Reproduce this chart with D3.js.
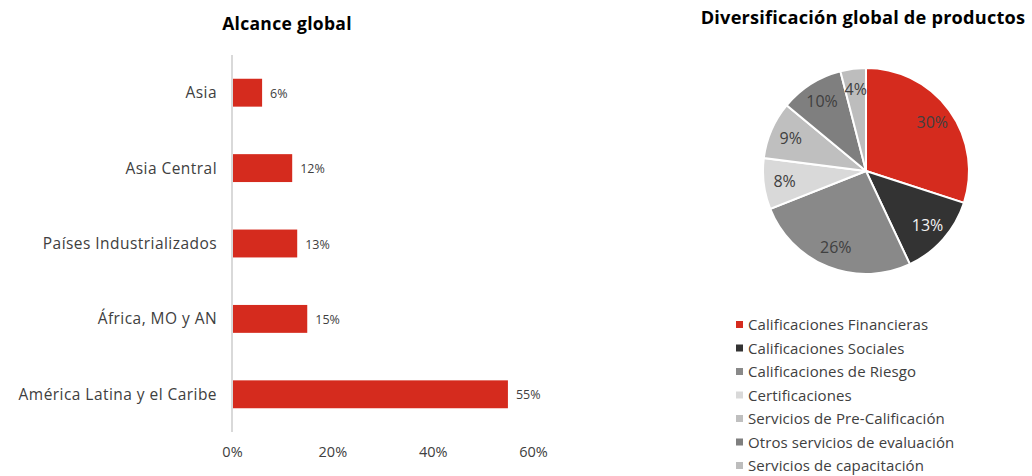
<!DOCTYPE html>
<html>
<head>
<meta charset="utf-8">
<script src="https://cdn.jsdelivr.net/npm/d3@7"></script>
<style>
  body { margin: 0; background: #fff; font-family: "Open Sans", sans-serif; }
  svg text { fill: #404040; }
</style>
</head>
<body>
<div id="chart"></div>
<script>
// bar chart data
const regions = ["Asia", "Asia Central", "Países Industrializados", "África, MO y AN", "América Latina y el Caribe"];
const regionShare = [6, 12, 13, 15, 55];
const xTicks = [0, 20, 40, 60];

// pie data
const products = ["Calificaciones Financieras", "Calificaciones Sociales", "Calificaciones de Riesgo",
  "Certificaciones", "Servicios de Pre-Calificación", "Otros servicios de evaluación", "Servicios de capacitación"];
const productShare = [30, 13, 26, 8, 9, 10, 4];
const productColors = ["#d52b1e", "#333333", "#898989", "#d9d9d9", "#bfbfbf", "#7f7f7f", "#bdbdbd"];

const svg = d3.select("#chart").append("svg")
    .attr("width", 1032)
    .attr("height", 476);

// ---- bar chart ----
const x = d3.scaleLinear().domain([0, 60]).range([232, 533]);
const y = d3.scaleBand().domain(regions).range([55, 432])
    .paddingInner(0.63).paddingOuter(0.315);

svg.append("text")
    .attr("x", 287).attr("y", 30)
    .attr("text-anchor", "middle")
    .attr("font-size", 17.5).attr("font-weight", "bold")
    .attr("letter-spacing", 0.3)
    .style("fill", "#000")
    .text("Alcance global");

svg.append("g")
    .selectAll("rect")
    .data(regions)
    .join("rect")
    .attr("x", x(0))
    .attr("y", d => y(d))
    .attr("width", (d, i) => x(regionShare[i]) - x(0))
    .attr("height", y.bandwidth())
    .attr("fill", "#d52b1e");

svg.append("line")
    .attr("x1", x(0)).attr("x2", x(0))
    .attr("y1", 55).attr("y2", 432)
    .attr("stroke", "#d9d9d9").attr("stroke-width", 2);

svg.append("g")
    .selectAll("text")
    .data(regions)
    .join("text")
    .attr("x", x(0) - 15)
    .attr("y", d => y(d) + y.bandwidth() / 2)
    .attr("dy", "0.35em")
    .attr("text-anchor", "end")
    .attr("font-size", 15.5)
    .attr("letter-spacing", 0.45)
    .text(d => d);

svg.append("g")
    .selectAll("text")
    .data(regions)
    .join("text")
    .attr("x", (d, i) => x(regionShare[i]) + 8)
    .attr("y", d => y(d) + y.bandwidth() / 2)
    .attr("dy", "0.4em")
    .attr("font-size", 12.5)
    .text((d, i) => regionShare[i] + "%");

const xAxis = d3.axisBottom(x).tickValues(xTicks).tickSize(0).tickFormat(d => d + "%");
svg.append("g")
    .attr("transform", "translate(0,444)")
    .call(xAxis)
    .call(g => g.select(".domain").remove())
    .selectAll("text")
    .attr("font-size", 14.5)
    .attr("font-family", "Open Sans, sans-serif")
    .style("fill", "#404040");

// ---- pie chart ----
const cx = 866, cy = 171, radius = 103;
svg.append("text")
    .attr("x", 863).attr("y", 24)
    .attr("text-anchor", "middle")
    .attr("font-size", 18.2).attr("font-weight", "bold")
    .attr("letter-spacing", 0.2)
    .style("fill", "#000")
    .text("Diversificación global de productos");

const pie = d3.pie().sort(null).value(d => d);
const arcs = pie(productShare);
const arc = d3.arc().innerRadius(0).outerRadius(radius);
const labelArc = d3.arc().innerRadius(82).outerRadius(82);

const pieG = svg.append("g").attr("transform", `translate(${cx},${cy})`);
pieG.selectAll("path")
    .data(arcs)
    .join("path")
    .attr("d", arc)
    .attr("fill", (d, i) => productColors[i])
    .attr("stroke", "#fff")
    .attr("stroke-width", 2);

pieG.selectAll("text")
    .data(arcs)
    .join("text")
    .attr("transform", d => `translate(${labelArc.centroid(d)})`)
    .attr("text-anchor", "middle")
    .attr("dy", "0.35em")
    .attr("font-size", 16)
    .style("fill", (d, i) => i === 1 ? "#f2f2f2" : "#404040")
    .text(d => d.data + "%");

// legend
const legend = svg.append("g")
    .selectAll("g")
    .data(products)
    .join("g")
    .attr("transform", (d, i) => `translate(736,${325 + i * 23.5})`);

legend.append("rect")
    .attr("x", 0).attr("y", -4)
    .attr("width", 7).attr("height", 7)
    .attr("fill", (d, i) => productColors[i]);

legend.append("text")
    .attr("x", 12)
    .attr("dy", "0.35em")
    .attr("font-size", 15)
    .attr("letter-spacing", 0.1)
    .text(d => d);
</script>
</body>
</html>
